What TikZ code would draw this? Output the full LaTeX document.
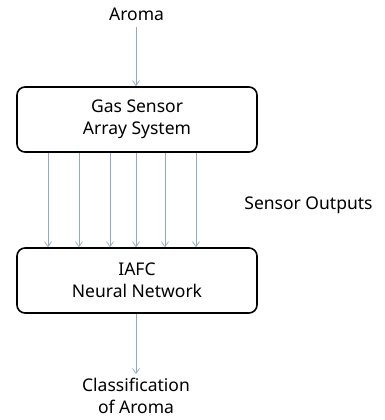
\documentclass[tikz,border=0pt]{standalone}
\usepackage{fontspec}
\setmainfont{Noto Sans}
\usetikzlibrary{arrows.meta}
\definecolor{arrc}{HTML}{8FAACB}
\tikzset{
  blk/.style={draw=black, line width=1.6pt, rounded corners=8pt, minimum width=240pt, minimum height=65pt, align=center, font=\fontsize{17.5}{22}\selectfont},
  lbl/.style={align=center, font=\fontsize{17.5}{22}\selectfont, inner sep=0pt},
  arr/.style={draw=arrc, line width=0.7pt, -{Straight Barb[length=5pt,width=7pt,line width=0.7pt]}}
}
\begin{document}
\begin{tikzpicture}[x=1pt,y=-1pt]
\useasboundingbox (0,0) rectangle (385,420);
\node[lbl] (aroma) at (136.5,14) {Aroma};
\node[blk] (gas) at (137,119.5) {Gas Sensor\\Array System};
\node[blk] (iafc) at (137,280.5) {IAFC\\Neural Network};
\node[lbl] (so) at (308.5,205) {Sensor Outputs};
\node[lbl] (cls) at (136,396) {Classification\\of Aroma};
\draw[arr] (136,0 |- 0,27) -- (136,0 |- gas.north);
\foreach \x in {48,79,110,136,165,196}{
  \draw[arr] (\x,0 |- gas.south) -- (\x,0 |- iafc.north);
}
\draw[arr] (136,0 |- iafc.south) -- (136,0 |- 0,374);
\end{tikzpicture}
\end{document}
